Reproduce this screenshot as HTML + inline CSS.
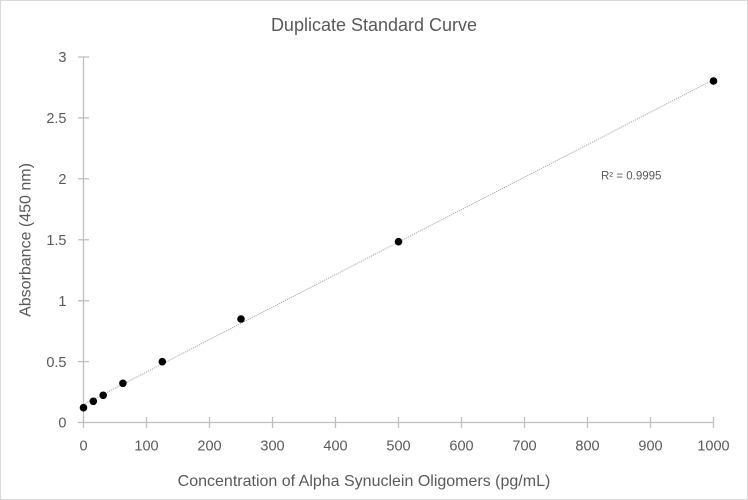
<!DOCTYPE html>
<html>
<head>
<meta charset="utf-8">
<style>
html,body{margin:0;padding:0;background:#fff;}
svg{display:block;}
text{font-family:"Liberation Sans",sans-serif;fill:#595959;}
</style>
</head>
<body>
<svg width="748" height="500" viewBox="0 0 748 500" xmlns="http://www.w3.org/2000/svg">
<rect x="0.5" y="0.5" width="747" height="499" fill="#fff" stroke="#d9d9d9" stroke-width="1"/>
<text x="374" y="31" font-size="18" text-anchor="middle">Duplicate Standard Curve</text>

<!-- axes -->
<g stroke="#bfbfbf" stroke-width="1.3" fill="none">
<line x1="83.5" y1="57" x2="83.5" y2="422.5"/>
<line x1="78" y1="422.5" x2="713.5" y2="422.5"/>
<!-- y ticks -->
<line x1="78" y1="57" x2="89" y2="57"/>
<line x1="78" y1="117.9" x2="89" y2="117.9"/>
<line x1="78" y1="178.8" x2="89" y2="178.8"/>
<line x1="78" y1="239.75" x2="89" y2="239.75"/>
<line x1="78" y1="300.7" x2="89" y2="300.7"/>
<line x1="78" y1="361.6" x2="89" y2="361.6"/>
<!-- x ticks -->
<line x1="83.5" y1="417" x2="83.5" y2="428"/>
<line x1="146.5" y1="417" x2="146.5" y2="428"/>
<line x1="209.5" y1="417" x2="209.5" y2="428"/>
<line x1="272.5" y1="417" x2="272.5" y2="428"/>
<line x1="335.5" y1="417" x2="335.5" y2="428"/>
<line x1="398.5" y1="417" x2="398.5" y2="428"/>
<line x1="461.5" y1="417" x2="461.5" y2="428"/>
<line x1="524.5" y1="417" x2="524.5" y2="428"/>
<line x1="587.5" y1="417" x2="587.5" y2="428"/>
<line x1="650.5" y1="417" x2="650.5" y2="428"/>
<line x1="713.5" y1="417" x2="713.5" y2="428"/>
</g>

<!-- y labels -->
<g font-size="14.5" text-anchor="end">
<text x="66.5" y="62">3</text>
<text x="66.5" y="123">2.5</text>
<text x="66.5" y="184">2</text>
<text x="66.5" y="245">1.5</text>
<text x="66.5" y="306">1</text>
<text x="66.5" y="367">0.5</text>
<text x="66.5" y="427.5">0</text>
</g>
<!-- x labels -->
<g font-size="14.5" text-anchor="middle">
<text x="83.5" y="450.5">0</text>
<text x="146.5" y="450.5">100</text>
<text x="209.5" y="450.5">200</text>
<text x="272.5" y="450.5">300</text>
<text x="335.5" y="450.5">400</text>
<text x="398.5" y="450.5">500</text>
<text x="461.5" y="450.5">600</text>
<text x="524.5" y="450.5">700</text>
<text x="587.5" y="450.5">800</text>
<text x="650.5" y="450.5">900</text>
<text x="713.5" y="450.5">1000</text>
</g>

<text x="364" y="486" font-size="16" text-anchor="middle">Concentration of Alpha Synuclein Oligomers (pg/mL)</text>
<text transform="translate(30.5,240) rotate(-90)" font-size="16" text-anchor="middle">Absorbance (450 nm)</text>

<!-- trendline -->
<line x1="83.5" y1="404.5" x2="713.5" y2="79.7" stroke="#a6a6a6" stroke-width="1" stroke-dasharray="1.2,1"/>

<!-- points -->
<g fill="#000">
<circle cx="83.5" cy="407.7" r="3.8"/>
<circle cx="93.3" cy="401.3" r="3.8"/>
<circle cx="103.2" cy="395.3" r="3.8"/>
<circle cx="122.9" cy="383.3" r="3.8"/>
<circle cx="162.3" cy="361.7" r="3.8"/>
<circle cx="241" cy="319" r="3.8"/>
<circle cx="398.5" cy="241.7" r="3.8"/>
<circle cx="713.5" cy="81" r="3.8"/>
</g>

<text x="601" y="179.5" font-size="11.5">R² = 0.9995</text>
</svg>
</body>
</html>
